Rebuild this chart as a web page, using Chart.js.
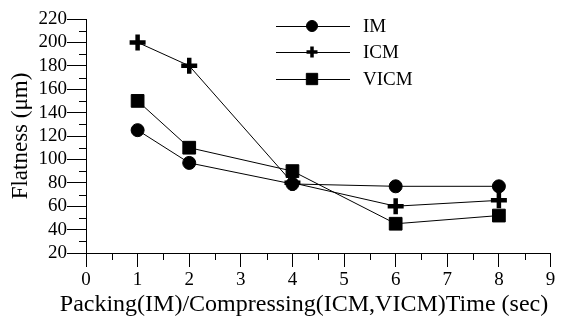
<!DOCTYPE html>
<html>
<head>
<meta charset="utf-8">
<script src="https://cdn.jsdelivr.net/npm/chart.js@4"></script>
<style>
  html, body { margin: 0; padding: 0; background: #fff; }
  #wrap { width: 563px; height: 325px; }
</style>
</head>
<body>
<div id="wrap"><canvas id="flatChart"></canvas></div>
<script>
// data
const times = [1, 2, 4, 6, 8];
const imValues = [125, 97, 79, 77, 77];
const icmValues = [200, 180, 80, 60, 65];
const vicmValues = [150, 110, 90, 45, 52];
const seriesNames = ['IM', 'ICM', 'VICM'];
const xTitle = 'Packing(IM)/Compressing(ICM,VICM)Time (sec)';

const FONT = "'Liberation Serif', 'Times New Roman', serif";

function toPoints(values) {
    return times.map((t, i) => ({ x: t, y: values[i] }));
}

// minor ticks on both axes + x title (sits a bit left of the axis centre)
const minorTicks = {
    id: 'minorTicks',
    afterDraw(chart) {
        const ctx = chart.ctx;
        const x = chart.scales.x;
        const y = chart.scales.y;
        ctx.save();
        ctx.strokeStyle = '#000';
        ctx.lineWidth = 1;
        ctx.beginPath();
        for (let v = 0.5; v < 9; v += 1) {
            const px = Math.round(x.getPixelForValue(v)) + 0.5;
            ctx.moveTo(px, x.top);
            ctx.lineTo(px, x.top + 7);
        }
        for (let v = 30; v < 220; v += 20) {
            const py = Math.round(y.getPixelForValue(v)) + 0.5;
            ctx.moveTo(y.right, py);
            ctx.lineTo(y.right - 7, py);
        }
        ctx.stroke();

        ctx.fillStyle = '#000';
        ctx.font = '24px ' + FONT;
        ctx.textAlign = 'center';
        ctx.textBaseline = 'middle';
        ctx.fillText(xTitle, 304, 305);
        ctx.restore();
    }
};

// legend in the upper middle, line with marker in the middle
const boxLegend = {
    id: 'boxLegend',
    afterDraw(chart) {
        const ctx = chart.ctx;
        const rows = [26, 52, 79];
        ctx.save();
        chart.data.datasets.forEach((ds, i) => {
            const yy = rows[i] + 0.5;
            ctx.strokeStyle = '#000';
            ctx.lineWidth = 1;
            ctx.beginPath();
            ctx.moveTo(276, yy);
            ctx.lineTo(350, yy);
            ctx.stroke();
            ctx.fillStyle = '#000';
            ctx.strokeStyle = '#000';
            ctx.lineWidth = ds.legendBorder;
            Chart.helpers.drawPoint(ctx, {
                pointStyle: ds.pointStyle,
                radius: ds.legendRadius,
                rotation: 0,
                borderWidth: ds.legendBorder
            }, 312, rows[i]);
            ctx.fillStyle = '#000';
            ctx.font = '19px ' + FONT;
            ctx.textBaseline = 'middle';
            ctx.textAlign = 'left';
            ctx.fillText(ds.label, 363, rows[i] + 1);
        });
        ctx.restore();
    }
};

const ctx = document.getElementById('flatChart').getContext('2d');
new Chart(ctx, {
    type: 'line',
    data: {
        datasets: [{
            label: seriesNames[0],
            data: toPoints(imValues),
            pointStyle: 'circle',
            pointRadius: 6.5,
            pointBorderWidth: 1,
            legendRadius: 5.5,
            legendBorder: 1
        }, {
            label: seriesNames[1],
            data: toPoints(icmValues),
            pointStyle: 'cross',
            pointRadius: 8,
            pointBorderWidth: 4.5,
            legendRadius: 5.5,
            legendBorder: 3.5
        }, {
            label: seriesNames[2],
            data: toPoints(vicmValues),
            pointStyle: 'rect',
            pointRadius: 9,
            pointBorderWidth: 1,
            legendRadius: 8,
            legendBorder: 1
        }].map(ds => Object.assign(ds, {
            borderColor: '#000',
            backgroundColor: '#000',
            pointBackgroundColor: '#000',
            pointBorderColor: '#000',
            borderWidth: 1,
            tension: 0,
            fill: false
        }))
    },
    options: {
        responsive: true,
        maintainAspectRatio: false,
        animation: false,
        layout: {
            padding: { left: 0, right: 9, top: 19, bottom: 0 }
        },
        plugins: {
            legend: { display: false },
            tooltip: { enabled: false }
        },
        scales: {
            x: {
                type: 'linear',
                min: 0,
                max: 9,
                grid: {
                    drawOnChartArea: false,
                    tickLength: 14,
                    color: '#000'
                },
                border: { display: true, color: '#000', width: 1 },
                ticks: {
                    stepSize: 1,
                    autoSkip: false,
                    color: '#000',
                    padding: 2,
                    maxRotation: 0,
                    font: { family: FONT, size: 19 }
                },
                afterFit(scale) { scale.height = 72; }
            },
            y: {
                min: 20,
                max: 220,
                grid: {
                    drawOnChartArea: false,
                    tickLength: 19,
                    color: '#000'
                },
                border: { display: true, color: '#000', width: 1 },
                ticks: {
                    stepSize: 20,
                    autoSkip: false,
                    color: '#000',
                    padding: 0,
                    font: { family: FONT, size: 19 }
                },
                title: {
                    display: true,
                    text: 'Flatness (μm)',
                    color: '#000',
                    padding: { top: 7, bottom: 0 },
                    font: { family: FONT, size: 23 }
                },
                afterFit(scale) { scale.width = 86; }
            }
        }
    },
    plugins: [minorTicks, boxLegend]
});
</script>
</body>
</html>
